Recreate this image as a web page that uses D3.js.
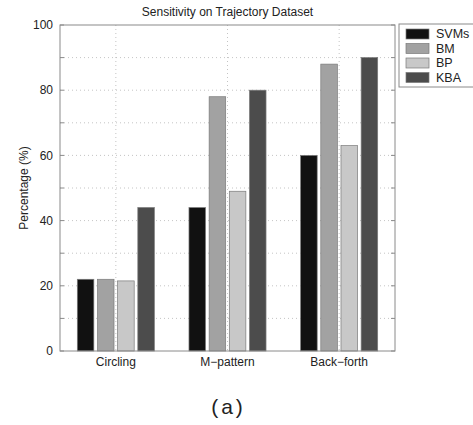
<!DOCTYPE html>
<html>
<head>
<meta charset="utf-8">
<script src="https://cdn.jsdelivr.net/npm/d3@7"></script>
<style>
  body { margin: 0; background: #fff; overflow: hidden; }
  text { font-family: "Liberation Sans", Arial, sans-serif; fill: #222; }
</style>
</head>
<body>
<div id="chart"></div>
<script>
// Data
const categories = ["Circling", "M\u2212pattern", "Back\u2212forth"];
const methods = ["SVMs", "BM", "BP", "KBA"];
const svms = [22, 44, 60];
const bm = [22, 78, 88];
const bp = [21.5, 49, 63];
const kba = [44, 80, 90];
const yTicks = [0, 20, 40, 60, 80, 100];
const colors = ["#111111", "#a2a2a2", "#c8c8c8", "#4c4c4c"];

const series = [svms, bm, bp, kba];

const W = 473, H = 425;
const margin = { top: 25, right: 78, bottom: 74, left: 60 };
const width = W - margin.left - margin.right;
const height = H - margin.top - margin.bottom;

const svg = d3.select("#chart")
    .append("svg")
    .attr("width", W)
    .attr("height", H)
    .style("display", "block");

const g = svg.append("g")
    .attr("transform", `translate(${margin.left},${margin.top})`);

// Scales
const x = d3.scaleBand()
    .domain(categories)
    .range([0, width])
    .padding(0);

const x1 = d3.scaleBand()
    .domain(methods)
    .range([x.bandwidth() * 0.155, x.bandwidth() * 0.845])
    .paddingInner(0.18);

const y = d3.scaleLinear()
    .domain([0, 100])
    .range([height, 0]);

// Grid (dotted)
const minor = d3.range(10, 100, 10);
g.append("g").selectAll("line")
    .data(minor)
    .enter().append("line")
    .attr("x1", 0).attr("x2", width)
    .attr("y1", d => y(d)).attr("y2", d => y(d))
    .attr("stroke", "#b5b5b5")
    .attr("stroke-width", 0.8)
    .attr("stroke-dasharray", "1,3");

g.append("g").selectAll("line")
    .data(categories)
    .enter().append("line")
    .attr("x1", d => x(d) + x.bandwidth() / 2)
    .attr("x2", d => x(d) + x.bandwidth() / 2)
    .attr("y1", 0).attr("y2", height)
    .attr("stroke", "#b5b5b5")
    .attr("stroke-width", 0.8)
    .attr("stroke-dasharray", "1,3");

// Bars
const groups = g.selectAll(".grp")
    .data(categories)
    .enter().append("g")
    .attr("class", "grp")
    .attr("transform", d => `translate(${x(d)},0)`);

groups.selectAll("rect")
    .data((d, i) => methods.map((m, j) => ({ m, v: series[j][i], j })))
    .enter().append("rect")
    .attr("x", d => x1(d.m))
    .attr("width", x1.bandwidth())
    .attr("y", d => y(d.v))
    .attr("height", d => height - y(d.v))
    .style("fill", d => colors[d.j])
    .attr("stroke", "#7a7a7a")
    .attr("stroke-width", 0.7);

// Axis box
g.append("rect")
    .attr("x", 0).attr("y", 0)
    .attr("width", width).attr("height", height)
    .attr("fill", "none")
    .attr("stroke", "#8a8a8a")
    .attr("stroke-width", 1);

// Tick marks (inward, both sides)
const allTicks = d3.range(0, 101, 10);
g.append("g").selectAll("line")
    .data(allTicks)
    .enter().append("line")
    .attr("x1", 0).attr("x2", 4)
    .attr("y1", d => y(d)).attr("y2", d => y(d))
    .attr("stroke", "#8a8a8a");
g.append("g").selectAll("line")
    .data(allTicks)
    .enter().append("line")
    .attr("x1", width - 4).attr("x2", width)
    .attr("y1", d => y(d)).attr("y2", d => y(d))
    .attr("stroke", "#8a8a8a");

// Y labels
g.append("g").selectAll("text")
    .data(yTicks)
    .enter().append("text")
    .attr("x", -7)
    .attr("y", d => y(d))
    .attr("dy", "0.35em")
    .attr("text-anchor", "end")
    .style("font-size", "12px")
    .text(d => d);

// X labels
g.append("g").selectAll("text")
    .data(categories)
    .enter().append("text")
    .attr("x", d => x(d) + x.bandwidth() / 2)
    .attr("y", height + 15)
    .attr("text-anchor", "middle")
    .style("font-size", "12px")
    .text(d => d);

// Title
svg.append("text")
    .attr("x", margin.left + width / 2)
    .attr("y", 16)
    .attr("text-anchor", "middle")
    .style("font-size", "12px")
    .text("Sensitivity on Trajectory Dataset");

// Y axis title
svg.append("text")
    .attr("transform", `translate(28,${margin.top + height / 2}) rotate(-90)`)
    .attr("text-anchor", "middle")
    .style("font-size", "12px")
    .text("Percentage (%)");

// Caption
svg.append("text")
    .attr("x", margin.left + width / 2 + 1)
    .attr("y", 414)
    .attr("text-anchor", "middle")
    .style("font-size", "21px")
    .style("letter-spacing", "3px")
    .text("(a)");

// Legend
const lg = svg.append("g").attr("transform", "translate(399,24)");
lg.append("rect")
    .attr("width", 100).attr("height", 63)
    .attr("fill", "#fff")
    .attr("stroke", "#8a8a8a");
const items = lg.selectAll(".item")
    .data(methods)
    .enter().append("g")
    .attr("transform", (d, i) => `translate(7,${5 + i * 14.5})`);
items.append("rect")
    .attr("width", 23).attr("height", 10)
    .style("fill", (d, i) => colors[i])
    .attr("stroke", "#7a7a7a")
    .attr("stroke-width", 0.7);
items.append("text")
    .attr("x", 30).attr("y", 5)
    .attr("dy", "0.35em")
    .style("font-size", "12.5px")
    .text(d => d);
</script>
</body>
</html>
